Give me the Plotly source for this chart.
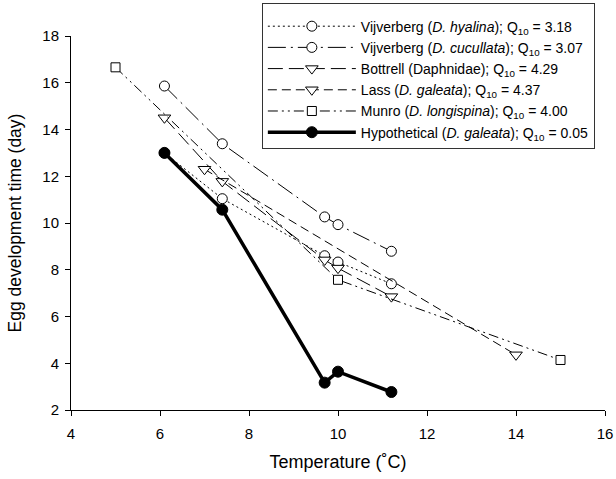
import plotly.graph_objects as go

# ---- data ----
hyalina_t = [6.1, 7.4, 9.7, 10.0, 11.2]
hyalina_d = [13.0, 11.04, 8.6, 8.33, 7.4]

cucullata_t = [6.1, 7.4, 9.7, 10.0, 11.2]
cucullata_d = [15.86, 13.39, 10.26, 9.93, 8.79]

bottrell_t = [6.1, 7.4, 9.7, 10.0, 11.2]
bottrell_d = [14.5, 11.78, 8.42, 8.07, 6.85]

lass_t = [7.0, 14.0]
lass_d = [12.3, 4.36]

munro_t = [5.0, 10.0, 15.0]
munro_d = [16.66, 7.57, 4.14]

hypo_t = [6.1, 7.4, 9.7, 10.0, 11.2]
hypo_d = [13.0, 10.57, 3.17, 3.64, 2.77]

names = [
    "Vijverberg (<i>D. hyalina</i>); Q<sub>10</sub> = 3.18",
    "Vijverberg (<i>D. cucullata</i>); Q<sub>10</sub> = 3.07",
    "Bottrell (Daphnidae); Q<sub>10</sub> = 4.29",
    "Lass (<i>D. galeata</i>); Q<sub>10</sub> = 4.37",
    "Munro (<i>D. longispina</i>); Q<sub>10</sub> = 4.00",
    "Hypothetical (<i>D. galeata</i>); Q<sub>10</sub> = 0.05",
]

x_ticks = [4, 6, 8, 10, 12, 14, 16]
y_ticks = [2, 4, 6, 8, 10, 12, 14, 16, 18]

FONT = "Arial, 'Liberation Sans', Helvetica, sans-serif"

series = [
    (hyalina_t, hyalina_d, "2px,3px", 1, "circle", 10, "white"),
    (cucullata_t, cucullata_d, "18px,5px,2px,5px", 1, "circle", 10, "white"),
    (bottrell_t, bottrell_d, "15px,6px", 1, "triangle-down", 11, "white"),
    (lass_t, lass_d, "9px,5px", 1, "triangle-down", 11, "white"),
    (munro_t, munro_d, "10px,4px,2px,4px,2px,4px", 1, "square", 9, "white"),
    (hypo_t, hypo_d, "solid", 3.5, "circle", 11, "black"),
]

fig = go.Figure()
for i, (t, d, dash, lw, sym, ms, fill) in enumerate(series):
    fig.add_trace(go.Scatter(
        x=t, y=d, mode="lines+markers", name=names[i],
        legendgroup=f"g{i}",
        line=dict(color="black", width=lw, dash=dash),
        marker=dict(symbol=sym, size=ms, color=fill,
                    line=dict(color="black", width=1)),
    ))

fig.update_layout(
    width=616, height=479,
    margin=dict(l=71, r=11, t=36, b=69, autoexpand=False),
    paper_bgcolor="white", plot_bgcolor="white",
    font=dict(family=FONT, size=15, color="black"),
    showlegend=True,
    legend=dict(
        x=0.981, xanchor="right", y=1.088, yanchor="top",
        bgcolor="white", bordercolor="#333333", borderwidth=1,
        font=dict(family=FONT, size=14, color="black"),
        title=dict(text=" ", font=dict(size=5)),
        itemwidth=88, tracegroupgap=0, traceorder="grouped",
    ),
    xaxis=dict(
        range=[4, 16], tickvals=x_ticks, ticktext=[str(v) for v in x_ticks],
        showline=True, linecolor="black", linewidth=1,
        ticks="outside", ticklen=5, tickcolor="black",
        showgrid=False, zeroline=False, automargin=False,
        ticklabelstandoff=5,
        title=dict(text="Temperature (˚C)", font=dict(size=18), standoff=14),
        tickfont=dict(size=15),
    ),
    yaxis=dict(
        range=[2, 18], tickvals=y_ticks, ticktext=[str(v) for v in y_ticks],
        showline=True, linecolor="black", linewidth=1,
        ticks="outside", ticklen=5, tickcolor="black",
        showgrid=False, zeroline=False, automargin=False,
        ticklabelstandoff=3,
        title=dict(text="Egg development time (day)", font=dict(size=17.5), standoff=16),
        tickfont=dict(size=15),
    ),
)

fig.write_html(
    "out.html",
    config={"displayModeBar": False},
    post_script="document.body.style.margin='0';document.body.style.padding='0';"
                "document.body.style.overflow='hidden';",
)
